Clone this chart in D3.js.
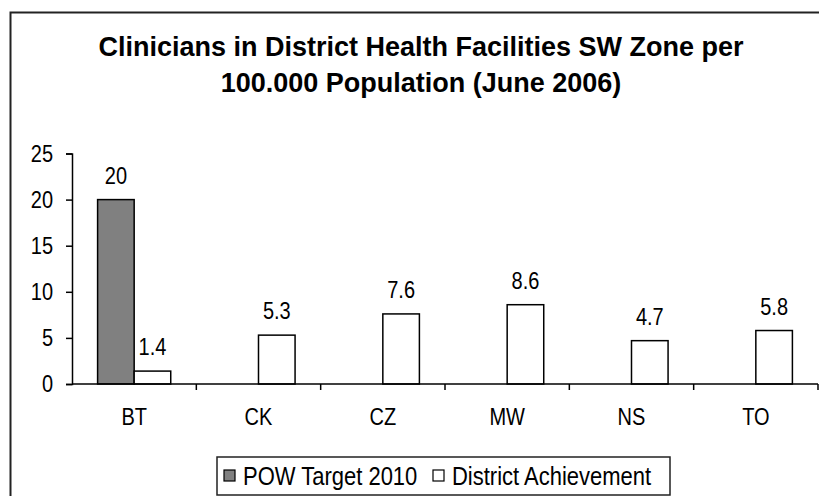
<!DOCTYPE html>
<html>
<head>
<meta charset="utf-8">
<script src="https://cdn.jsdelivr.net/npm/d3@7"></script>
<style>
  body { margin: 0; background: #fff; }
  svg { display: block; font-family: Arial, 'Liberation Sans', sans-serif; }
</style>
</head>
<body>
<svg width="819" height="496"></svg>
<script>
    const districts = ['BT', 'CK', 'CZ', 'MW', 'NS', 'TO'];
    const seriesNames = ['POW Target 2010', 'District Achievement'];
    const powTarget = [20, null, null, null, null, null];
    const achievement = [1.4, 5.3, 7.6, 8.6, 4.7, 5.8];
    const yTicks = [0, 5, 10, 15, 20, 25];
    const titleLines = ['Clinicians in District Health Facilities SW Zone per', '100.000 Population (June 2006)'];

    const svg = d3.select('svg');
    const fills = ['#808080', '#ffffff'];
    const stretch = 1.2; // the labels in the original are a bit taller than wide

    // outer chart frame (right/bottom edges fall outside the picture)
    svg.append('rect')
        .attr('x', 10.5).attr('y', 12.5)
        .attr('width', 830).attr('height', 520)
        .attr('fill', 'none').attr('stroke', '#222').attr('stroke-width', 2);

    svg.append('g')
        .selectAll('text')
        .data(titleLines)
        .enter().append('text')
          .attr('x', 421)
          .attr('y', (d, i) => 56 + i * 36)
          .attr('text-anchor', 'middle')
          .attr('font-size', 27)
          .attr('font-weight', 'bold')
          .text(d => d);

    const x = d3.scaleBand().domain(districts).range([72, 818]);
    const xInner = d3.scaleBand().domain(seriesNames).range([0, x.bandwidth()]).paddingOuter(0.7);
    const y = d3.scaleLinear().domain([0, 25]).range([384, 153.5]);

    const rows = districts.map((d, i) => ({ name: d, values: [powTarget[i], achievement[i]] }));

    const groups = svg.append('g')
      .selectAll('g')
      .data(rows)
      .enter().append('g')
        .attr('transform', d => `translate(${x(d.name)},0)`);

    const cells = groups.selectAll('g')
      .data(d => d.values.map((v, j) => ({ key: seriesNames[j], value: v, j })).filter(c => c.value != null))
      .enter().append('g');

    cells.append('rect')
        .attr('x', c => xInner(c.key))
        .attr('y', c => y(c.value))
        .attr('width', xInner.bandwidth())
        .attr('height', c => y(0) - y(c.value))
        .attr('fill', c => fills[c.j])
        .attr('stroke', '#000')
        .attr('stroke-width', 1.5);

    cells.append('text')
        .attr('transform', c => `translate(${xInner(c.key) + xInner.bandwidth() / 2},${y(c.value) - 16}) scale(1,${stretch})`)
        .attr('text-anchor', 'middle')
        .attr('font-size', 20)
        .text(c => c.value);

    // y axis
    const yAxis = svg.append('g')
        .attr('transform', 'translate(72,0)')
        .call(d3.axisLeft(y).tickValues(yTicks).tickSize(6).tickPadding(13));
    yAxis.select('.domain').attr('stroke', '#000').attr('stroke-width', 1.5);
    yAxis.selectAll('.tick line').attr('stroke', '#000').attr('stroke-width', 1.5);
    yAxis.selectAll('.tick text')
        .attr('font-size', 20).attr('font-family', null).attr('fill', '#000')
        .attr('transform', `scale(1,${stretch})`);

    // x axis: ticks between categories
    const xAxis = svg.append('g')
        .attr('transform', `translate(0,${y(0)})`);
    xAxis.append('line')
        .attr('x1', 72).attr('x2', 818)
        .attr('stroke', '#000').attr('stroke-width', 1.5);
    xAxis.selectAll('.sep')
      .data(districts.slice(1).concat(['end']))
      .enter().append('line')
        .attr('x1', (d, i) => x.range()[0] + x.step() * (i + 1))
        .attr('x2', (d, i) => x.range()[0] + x.step() * (i + 1))
        .attr('y1', 0).attr('y2', 6)
        .attr('stroke', '#000').attr('stroke-width', 1.5);
    xAxis.selectAll('.cat')
      .data(districts)
      .enter().append('text')
        .attr('transform', d => `translate(${x(d) + x.bandwidth() / 2},41) scale(1,${stretch})`)
        .attr('text-anchor', 'middle')
        .attr('font-size', 20)
        .text(d => d);

    // legend
    const legend = svg.append('g');
    legend.append('rect')
        .attr('x', 217).attr('y', 457)
        .attr('width', 453).attr('height', 38)
        .attr('fill', '#fff').attr('stroke', '#222').attr('stroke-width', 1.5);
    const legendX = [224, 433];
    const items = legend.selectAll('g')
      .data(seriesNames)
      .enter().append('g')
        .attr('transform', (d, i) => `translate(${legendX[i]},470)`);
    items.append('rect')
        .attr('width', 11).attr('height', 11)
        .attr('fill', (d, i) => fills[i])
        .attr('stroke', '#000').attr('stroke-width', 1.2);
    items.append('text')
        .attr('transform', `translate(19,15) scale(1,1.15)`)
        .attr('font-size', 22)
        .text(d => d);
</script>
</body>
</html>
